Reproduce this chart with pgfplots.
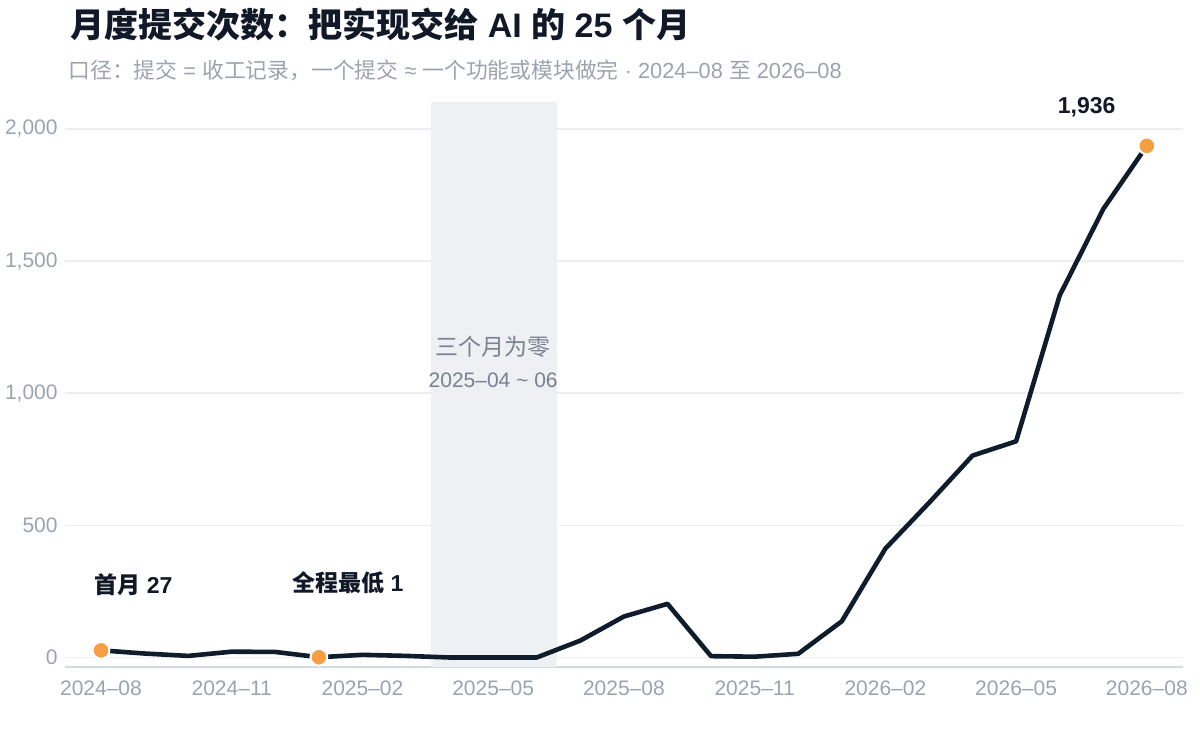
\documentclass[border=0pt]{standalone}
\usepackage{fontspec}
\setmainfont{Liberation Sans}
\newfontfamily\cjk{Noto Sans CJK SC}
\usepackage{pgfplots}
\pgfplotsset{compat=1.18}

\definecolor{c_line}{HTML}{0F1C2B}
\definecolor{c_dot}{HTML}{F59E42}
\definecolor{c_title}{HTML}{111827}
\definecolor{c_sub}{HTML}{9CA3AF}
\definecolor{c_tick}{HTML}{9CA3AF}
\definecolor{c_grid}{HTML}{ECEEF1}
\definecolor{c_axis}{HTML}{D5DAE1}
\definecolor{c_shade}{HTML}{EEF0F4}
\definecolor{c_shtext}{HTML}{7B8190}

\begin{document}
\begin{tikzpicture}
\path[use as bounding box] (0,0) rectangle (600pt,367.5pt);

% title and subtitle
\node[anchor=west, inner sep=0pt, text=c_title, font=\fontsize{17}{19}\selectfont\bfseries]
  at (35pt,355.5pt) {{\cjk 月度提交次数：把实现交给} AI {\cjk 的} 25 {\cjk 个月}};
\node[anchor=west, inner sep=0pt, text=c_sub, font=\fontsize{10.9}{12}\selectfont]
  at (34pt,332.5pt) {{\cjk 口径：提交} = {\cjk 收工记录，一个提交} ≈ {\cjk 一个功能或模块做完} · 2024–08 {\cjk 至} 2026–08};

\begin{axis}[
    at={(32.5pt,34pt)}, anchor=south west,
    scale only axis,
    width=559pt, height=282.25pt,
    xmin=-0.826, xmax=24.83,
    ymin=-36, ymax=2100,
    xtick={0,3,...,24},
    xticklabels={2024–08,2024–11,2025–02,2025–05,2025–08,2025–11,2026–02,2026–05,2026–08},
    ytick={0,500,1000,1500,2000},
    yticklabels={0,500,{1,000},{1,500},{2,000}},
    major tick length=0pt,
    tick label style={text=c_tick, font=\fontsize{10.5}{12}\selectfont},
    xticklabel style={anchor=north, inner sep=0pt, yshift=-6.5pt},
    yticklabel style={anchor=east, inner sep=0pt, xshift=-3.5pt},
    axis x line*=bottom, axis y line*=left,
    x axis line style={draw=c_axis, line width=1pt, -},
    y axis line style={draw=none},
    ymajorgrids=true,
    grid style={draw=c_grid, line width=0.8pt},
    clip=false,
]
% zero months band
\fill[c_shade] (axis cs:7.57,-36) rectangle (axis cs:10.46,2100);
\node[text=c_shtext, font=\fontsize{11.5}{13}\selectfont\cjk] at (axis cs:9.0,1175) {三个月为零};
\node[text=c_shtext, font=\fontsize{10.5}{12}\selectfont] at (axis cs:9.0,1050) {2025–04 \char`~\ 06};

\addplot[c_line, line width=2.3pt, line join=round] coordinates {
(0,27) (1,15) (2,6) (3,22) (4,21) (5,1) (6,10) (7,6) (8,0) (9,0) (10,0)
(11,64) (12,155) (13,203) (14,5) (15,3) (16,14) (17,137) (18,412) (19,585)
(20,764) (21,818) (22,1370) (23,1697) (24,1936)
};
\addplot[only marks, mark=*, mark size=4.2pt, mark options={fill=c_dot, draw=white, line width=1pt}]
  coordinates {(0,27) (5,1) (24,1936)};

\node[anchor=west, inner sep=0pt, text=c_title, font=\fontsize{11.5}{13}\selectfont\bfseries]
  at (axis cs:-0.16,274) {{\cjk 首月} 27};
\node[anchor=west, inner sep=0pt, text=c_title, font=\fontsize{11.5}{13}\selectfont\bfseries]
  at (axis cs:4.38,282) {{\cjk 全程最低} 1};
\node[inner sep=0pt, text=c_title, font=\fontsize{11.5}{13}\selectfont\bfseries]
  at (axis cs:22.62,2083) {1,936};
\end{axis}
\end{tikzpicture}
\end{document}
